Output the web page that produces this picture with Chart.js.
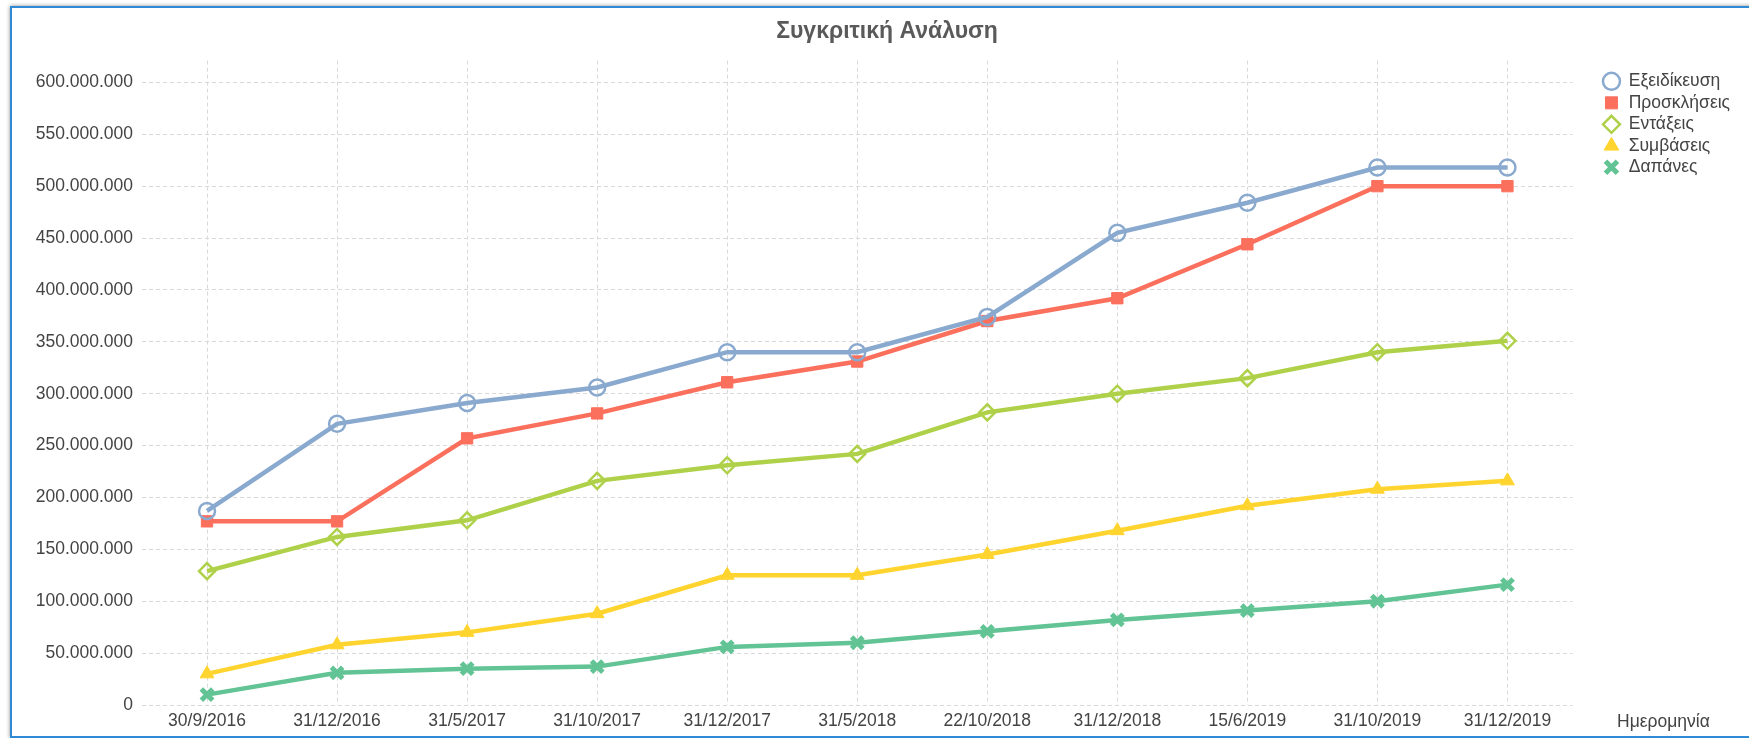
<!DOCTYPE html>
<html>
<head>
<meta charset="utf-8">
<script src="https://cdn.jsdelivr.net/npm/chart.js@4.4.1/dist/chart.umd.min.js"></script>
<style>
  html, body { margin: 0; padding: 0; overflow: hidden; background: #fff; }
  #frame {
    position: absolute; left: 10px; top: 6px; width: 1800px; height: 732px;
    box-sizing: border-box; border: 2px solid #2f89d4;
    box-shadow: 0 0 4px rgba(0,0,0,0.45);
  }
  #c { position: absolute; left: 0; top: 0; }
</style>
</head>
<body>
<div id="frame"></div>
<canvas id="c" width="1775" height="738"></canvas>
<script>
const FONT = "Arial, 'Liberation Sans', sans-serif";

const dates = ['30/9/2016','31/12/2016','31/5/2017','31/10/2017','31/12/2017','31/5/2018',
               '22/10/2018','31/12/2018','15/6/2019','31/10/2019','31/12/2019'];

const exeidikeusi = [187000000,271000000,291000000,306000000,340000000,340000000,
                     374000000,455000000,484000000,518000000,518000000];
const proskliseis = [177000000,177000000,257000000,281000000,311000000,331000000,
                     370000000,392000000,444000000,500000000,500000000];
const entaxeis    = [129000000,162000000,178000000,216000000,231000000,242000000,
                     282000000,300000000,315000000,340000000,351000000];
const symvaseis   = [30000000,58000000,70000000,88000000,125000000,125000000,
                     145000000,168000000,192000000,208000000,216000000];
const dapanes     = [10000000,31000000,35000000,37000000,56000000,60000000,
                     71000000,82000000,91000000,100000000,116000000];

const chartTitle = 'Συγκριτική Ανάλυση';
const xTitle = 'Ημερομηνία';

function fmt(v){
    return String(v).replace(/\B(?=(\d{3})+(?!\d))/g, '.');
}

function series(label, data, color, style, fill, bw){
    return {
        label: label,
        data: data,
        borderColor: color,
        backgroundColor: color,
        borderWidth: 4.5,
        tension: 0,
        pointStyle: style,
        pointRadius: 8,
        pointHoverRadius: 8,
        pointBorderColor: color,
        pointBackgroundColor: fill,
        pointBorderWidth: bw
    };
}

// x axis caption sits right of the last date, on the tick label row
const xCaption = {
    id: 'xCaption',
    afterDraw(chart){
        const ctx = chart.ctx, x = chart.scales.x;
        ctx.save();
        ctx.font = '17.5px ' + FONT;
        ctx.fillStyle = '#444';
        ctx.textAlign = 'center';
        ctx.textBaseline = 'middle';
        ctx.fillText(xTitle, x.right + 91, x.top + 17);
        ctx.restore();
    }
};

new Chart(document.getElementById('c'), {
    type: 'line',
    data: {
        labels: dates,
        datasets: [
            series('Εξειδίκευση', exeidikeusi, '#8aa9cf', 'circle', 'rgba(0,0,0,0)', 2.5),
            series('Προσκλήσεις', proskliseis, '#fb6f5d', 'rect', '#fb6f5d', 1),
            series('Εντάξεις', entaxeis, '#afd14a', 'rectRot', 'rgba(0,0,0,0)', 2.5),
            series('Συμβάσεις', symvaseis, '#ffd42e', 'triangle', '#ffd42e', 1),
            series('Δαπάνες', dapanes, '#62c495', 'crossRot', '#62c495', 5)
        ]
    },
    options: {
        responsive: false,
        animation: false,
        devicePixelRatio: 1,
        events: [],
        layout: { padding: { left: 34, right: 35, top: 0, bottom: 0 } },
        plugins: {
            title: {
                display: true,
                text: chartTitle,
                color: '#5a5a5a',
                font: { family: FONT, size: 23, weight: 'bold' },
                padding: { top: 18, bottom: 15 }
            },
            legend: {
                position: 'right',
                align: 'start',
                fullSize: false,
                title: { display: true, text: '', font: { size: 8, lineHeight: 1 }, padding: 0 },
                labels: {
                    usePointStyle: true,
                    boxWidth: 17,
                    boxHeight: 12,
                    padding: 4,
                    color: '#444',
                    font: { family: FONT, size: 17.5 }
                }
            },
            tooltip: { enabled: false }
        },
        scales: {
            x: {
                offset: true,
                grid: { color: '#d9d9d9', drawTicks: false },
                border: { display: false, dash: [4, 3] },
                ticks: { color: '#444', padding: 6, maxRotation: 0, autoSkip: false,
                         font: { family: FONT, size: 17.5 } },
                afterFit(s){ s.height = 33; }
            },
            y: {
                min: 0,
                max: 621000000,
                grid: { color: '#d9d9d9', drawTicks: false },
                border: { display: false, dash: [4, 3] },
                ticks: { maxTicksLimit: 14, includeBounds: false,
                         color: '#444', padding: 9,
                         font: { family: FONT, size: 17.5 },
                         callback: v => fmt(v) },
                afterFit(s){ s.width = 108; }
            },
            gap: {
                position: 'right',
                display: true,
                grid: { display: false },
                border: { display: false },
                ticks: { display: false },
                afterFit(s){ s.width = 26.5; }
            }
        }
    },
    plugins: [xCaption]
});
</script>
</body>
</html>
